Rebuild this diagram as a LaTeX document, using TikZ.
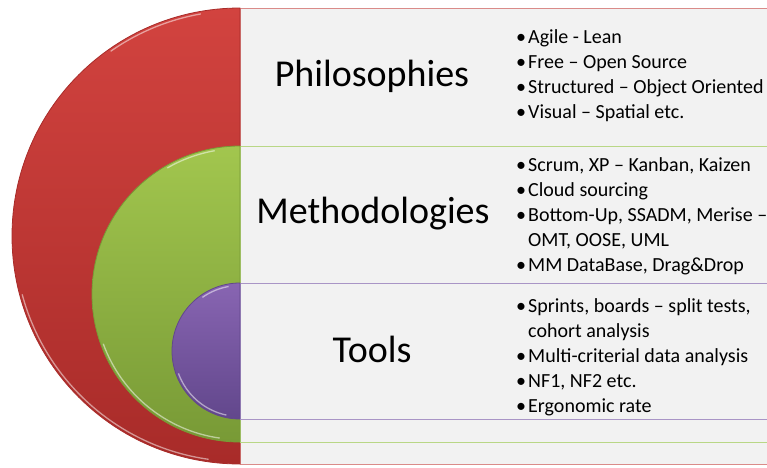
\documentclass[tikz,border=0pt]{standalone}
\usepackage{fontspec}
\setmainfont{Carlito}
\usepackage{xcolor}

\definecolor{redtop}{HTML}{D2433F}
\definecolor{redbot}{HTML}{A82B29}
\definecolor{redline}{HTML}{DA8B89}
\definecolor{greentop}{HTML}{A2C64E}
\definecolor{greenbot}{HTML}{789A36}
\definecolor{greenline}{HTML}{B9D786}
\definecolor{purptop}{HTML}{8865B2}
\definecolor{purpbot}{HTML}{62478C}
\definecolor{purpline}{HTML}{A995C6}
\definecolor{boxgray}{HTML}{F2F2F2}

\newcommand{\bul}{\strut\makebox[12pt][l]{\textbullet}}
\newcommand{\ind}{\strut\hspace*{12pt}}

\begin{document}
\begin{tikzpicture}[x=1pt, y=1pt,
    title/.style={font=\fontsize{38}{44}\selectfont, inner sep=0, anchor=base},
    items/.style={font=\fontsize{20}{25}\selectfont, inner sep=0, align=left, anchor=north west},
    band/.style={fill=boxgray, draw=#1, line width=0.8pt},
    half/.style={draw=#1, line width=0.8pt},
    shine/.style={draw=white, line width=1.3pt, opacity=0.5}]
  \useasboundingbox (0,0) rectangle (767,467);
  \clip (0,0) rectangle (767,467);

  % outer layer
  \draw[band=redline] (240,3) rectangle (790,459);
  \draw[half=redbot, top color=redtop, bottom color=redbot]
    (240,459) arc (90:270:228) -- cycle;
  \draw[shine] (240,231) ++(195:225.5) arc (195:262:225.5);
  \draw[shine] (240,231) ++(100:225.5) arc (100:125:225.5);

  % middle layer
  \draw[band=greenline] (240,25) rectangle (790,321);
  \draw[half=greenbot, top color=greentop, bottom color=greenbot]
    (240,321) arc (90:270:148) -- cycle;
  \draw[shine] (240,173) ++(200:145.5) arc (200:262:145.5);
  \draw[shine] (240,173) ++(100:145.5) arc (100:120:145.5);

  % inner layer
  \draw[band=purpline] (240,48) rectangle (790,184);
  \draw[half=purpbot, top color=purptop, bottom color=purpbot]
    (240,184) arc (90:270:68) -- cycle;
  \draw[shine] (240,116) ++(200:65.5) arc (200:258:65.5);
  \draw[shine] (240,116) ++(100:65.5) arc (100:125:65.5);

  \node[title, name=phil] at (372,381) {Philosophies};
  \node[title, name=meth] at (373,244) {Methodologies};
  \node[title, name=tool] at (372,105) {Tools};

  \node[items, name=philitems] at (516,441.5) {%
    \bul Agile - Lean\\
    \bul Free – Open Source\\
    \bul Structured – Object Oriented\\
    \bul Visual – Spatial etc.};
  \node[items, name=methitems] at (516,313.5) {%
    \bul Scrum, XP – Kanban, Kaizen\\
    \bul Cloud sourcing\\
    \bul Bottom-Up, SSADM, Merise –\\
    \ind OMT, OOSE, UML\\
    \bul MM DataBase, Drag\&Drop};
  \node[items, name=toolitems] at (516,172.5) {%
    \bul Sprints, boards – split tests,\\
    \ind cohort analysis\\
    \bul Multi-criterial data analysis\\
    \bul NF1, NF2 etc.\\
    \bul Ergonomic rate};
\end{tikzpicture}
\end{document}
